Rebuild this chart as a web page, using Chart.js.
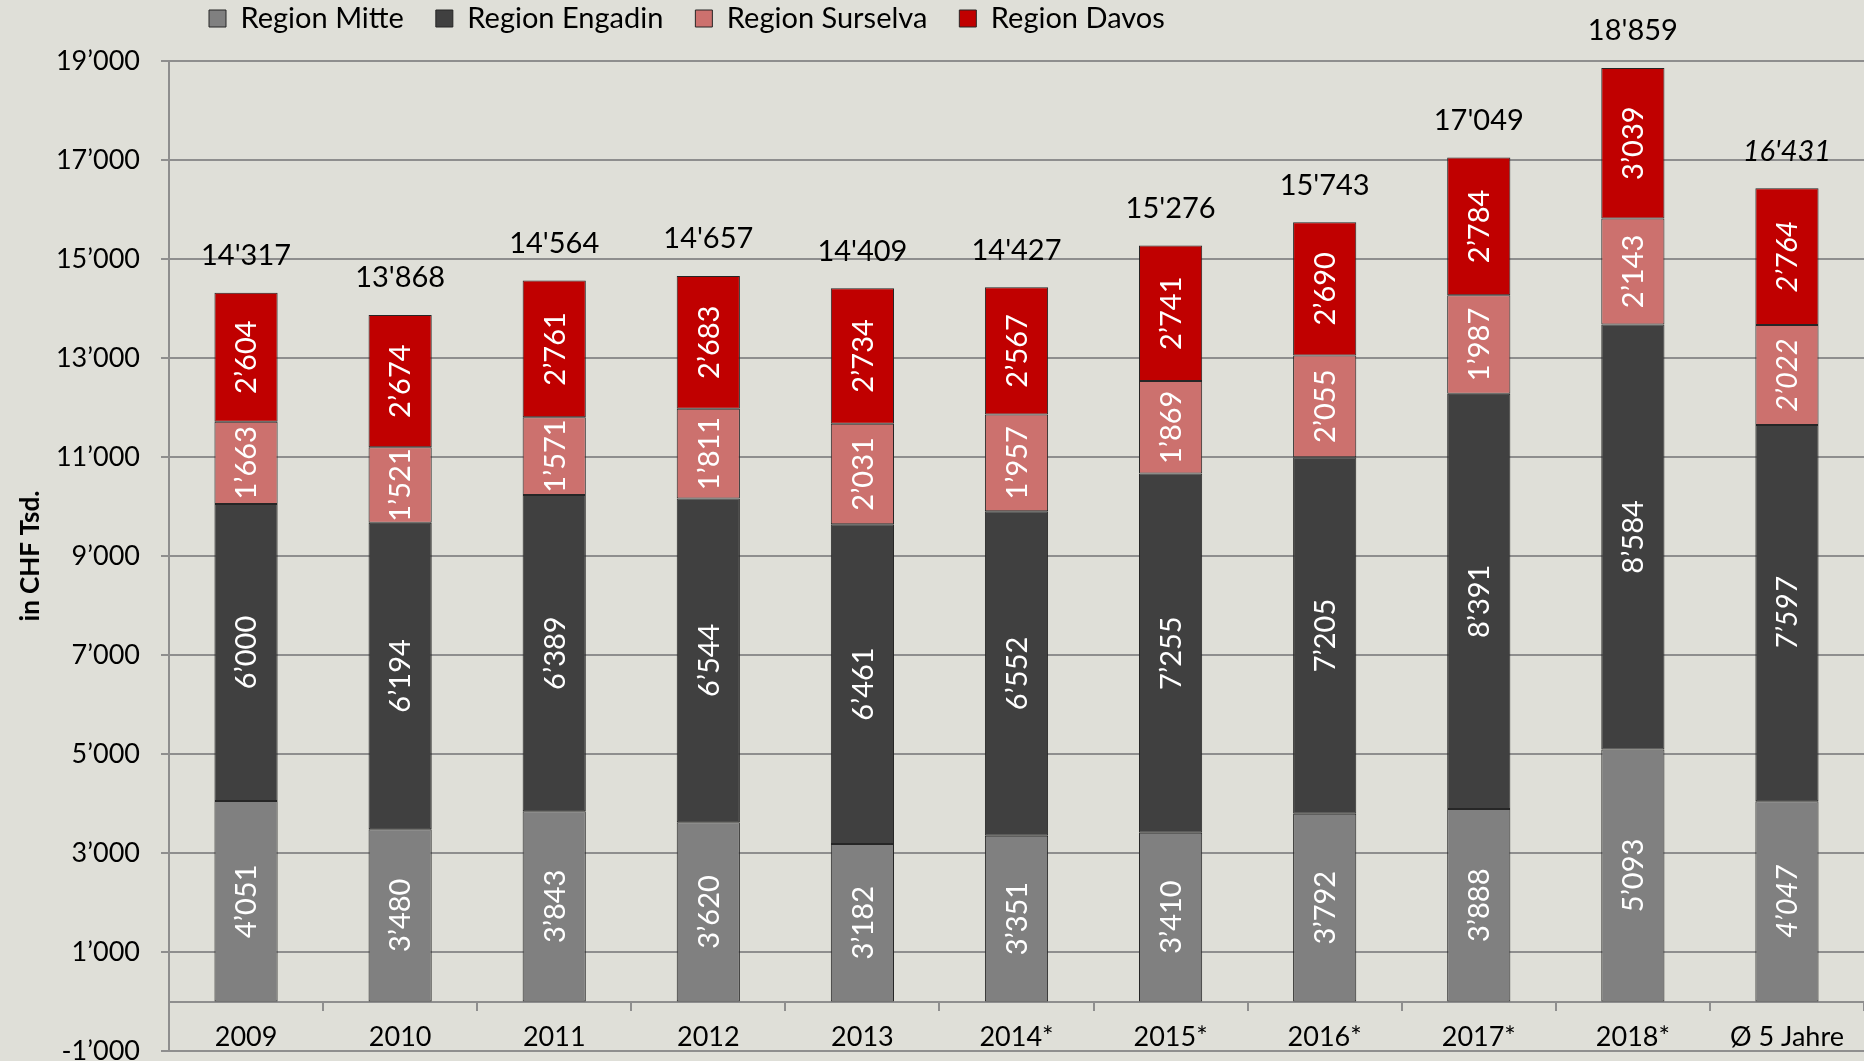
<!DOCTYPE html>
<html>
<head>
<meta charset="utf-8">
<script src="https://cdn.jsdelivr.net/npm/chart.js@4.4.1/dist/chart.umd.min.js"></script>
<style>
  html, body { margin: 0; padding: 0; background: #dfdfd8; }
  #wrap { width: 1864px; height: 1061px; }
</style>
</head>
<body>
<div id="wrap"><canvas id="chart"></canvas></div>
<script>
// values in CHF Tsd.
const categories = ['2009', '2010', '2011', '2012', '2013', '2014*', '2015*', '2016*', '2017*', '2018*', 'Ø 5 Jahre'];
const regionMitte    = [4051, 3480, 3843, 3620, 3182, 3351, 3410, 3792, 3888, 5093, 4047];
const regionEngadin  = [6000, 6194, 6389, 6544, 6461, 6552, 7255, 7205, 8391, 8584, 7597];
const regionSurselva = [1663, 1521, 1571, 1811, 2031, 1957, 1869, 2055, 1987, 2143, 2022];
const regionDavos    = [2604, 2674, 2761, 2683, 2734, 2567, 2741, 2690, 2784, 3039, 2764];
const totals         = [14317, 13868, 14564, 14657, 14409, 14427, 15276, 15743, 17049, 18859, 16431];

const yMin = -1000, yMax = 19000, yStep = 2000;

const fmt = (v, sep) => String(v).replace(/\B(?=(\d{3})+(?!\d))/g, sep || '’');

Chart.defaults.font.family = 'Lato';
Chart.defaults.color = '#000';

const gridGrey = '#8e8e8e';
const edge = '#262626';

// white rotated values inside the segments, totals on top
const barLabels = {
    id: 'barLabels',
    afterDatasetsDraw(chart) {
        const ctx = chart.ctx;
        const last = categories.length - 1;
        chart.data.datasets.forEach((ds, i) => {
            chart.getDatasetMeta(i).data.forEach((bar, j) => {
                ctx.save();
                ctx.translate(bar.x, (bar.y + bar.base) / 2);
                ctx.rotate(-Math.PI / 2);
                ctx.font = (j === last ? 'italic ' : '') + '29px Lato';
                ctx.fillStyle = '#fff';
                ctx.textAlign = 'center';
                ctx.textBaseline = 'middle';
                ctx.fillText(fmt(ds.data[j]), 0, 1);
                ctx.restore();
            });
        });
        const topMeta = chart.getDatasetMeta(chart.data.datasets.length - 1);
        topMeta.data.forEach((bar, j) => {
            ctx.save();
            ctx.font = (j === last ? 'italic ' : '') + '29px Lato';
            ctx.fillStyle = '#000';
            ctx.textAlign = 'center';
            ctx.textBaseline = 'middle';
            ctx.fillText(fmt(totals[j], "'"), bar.x, bar.y - 37);
            ctx.restore();
        });
    }
};

// legend sits left of centre, right at the top edge
const legendPlace = {
    id: 'legendPlace',
    afterLayout(chart) {
        chart.legend.left = 177;
        chart.legend.top = -28;
    }
};

const mk = (label, data, color) => ({
    label: label, data: data, backgroundColor: color,
    borderColor: edge, borderWidth: 1, borderSkipped: false,
    barPercentage: 0.41, categoryPercentage: 1
});

new Chart(document.getElementById('chart'), {
    type: 'bar',
    data: {
        labels: categories,
        datasets: [
            mk('Region Mitte', regionMitte, '#808080'),
            mk('Region Engadin', regionEngadin, '#404040'),
            mk('Region Surselva', regionSurselva, '#cc716e'),
            mk('Region Davos', regionDavos, '#c00000')
        ]
    },
    options: {
        responsive: true, maintainAspectRatio: false, animation: false,
        layout: { padding: { top: 0, bottom: 10, left: 0, right: 0 } },
        plugins: {
            legend: {
                display: true, position: 'top', align: 'start', maxHeight: 61,
                labels: { font: { size: 29 }, boxWidth: 17, boxHeight: 17, padding: 32, color: '#000' }
            },
            tooltip: { enabled: false }
        },
        scales: {
            x: {
                stacked: true,
                position: { y: 0 },
                grid: { display: true, drawOnChartArea: false, drawTicks: true, tickLength: 8, color: gridGrey, lineWidth: 2, offset: true },
                border: { display: true, color: gridGrey, width: 2 },
                ticks: { font: { size: 27 }, padding: 12, maxRotation: 0, autoSkip: false, color: '#000' }
            },
            y: {
                stacked: true,
                min: yMin, max: yMax,
                grid: { color: gridGrey, lineWidth: 2, tickLength: 8 },
                border: { display: true, color: gridGrey, width: 2 },
                ticks: { stepSize: yStep, font: { size: 27 }, padding: 21, color: '#000',
                    callback: (v) => fmt(v) },
                title: { display: true, text: 'in CHF Tsd.', font: { size: 26, weight: 'bold' }, padding: { top: 15, bottom: 0 }, color: '#000' },
                afterFit(scale) {
                    scale.width = 169;
                    scale.paddingBottom = 4;
                    scale.paddingTop = 4;
                }
            }
        }
    },
    plugins: [barLabels, legendPlace]
});
</script>
</body>
</html>
